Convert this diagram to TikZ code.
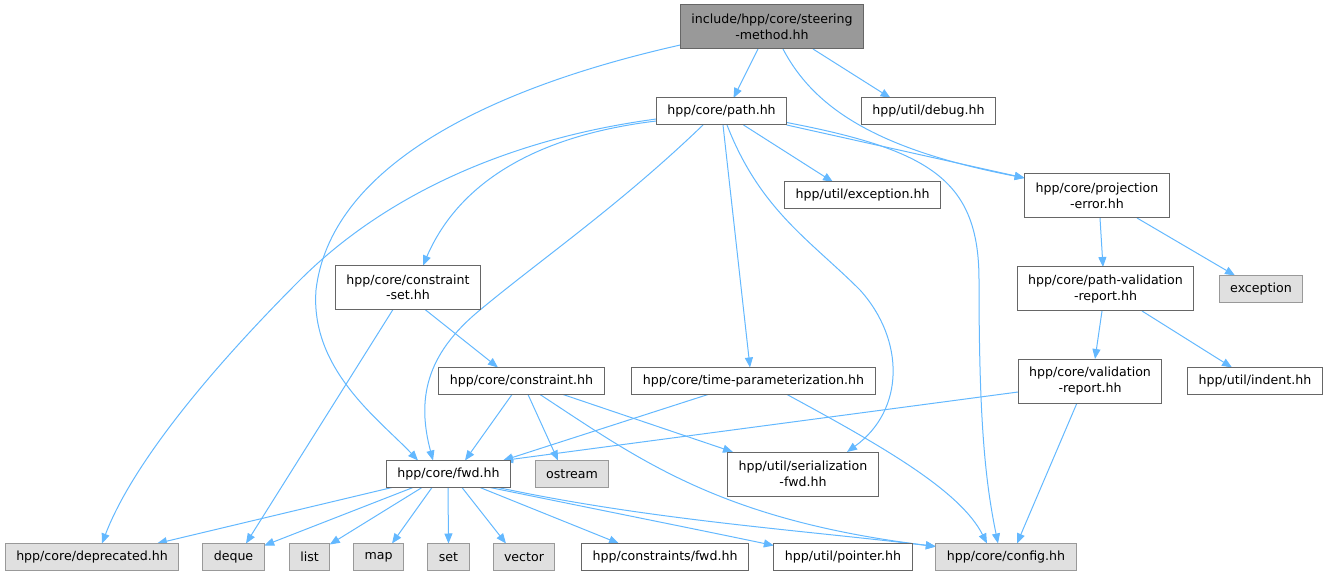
\documentclass[tikz,border=0pt]{standalone}
\usepackage{fontspec}
\setmainfont{DejaVu Sans}
\usetikzlibrary{arrows.meta}
\pgfdeclarelayer{bg}
\pgfsetlayers{bg,main}
\definecolor{edgec}{HTML}{63B8FF}
\definecolor{bordc}{HTML}{666666}
\definecolor{extb}{HTML}{999999}
\definecolor{extf}{HTML}{E0E0E0}
\begin{document}
\begin{tikzpicture}[x=1pt,y=-1pt,
  box/.style={draw=bordc,fill=white,line width=1pt,rectangle,inner xsep=11pt,inner ysep=0pt,outer sep=0pt,
    minimum height=27pt,align=center,font=\fontsize{12.6}{15.5}\selectfont},
  two/.style={minimum height=44pt},
  ext/.style={box,draw=extb,fill=extf},
  topn/.style={box,two,fill=extb,draw=bordc},
  e/.style={draw=edgec,line width=1pt,-{Triangle[length=10pt,width=8pt]}}]
\useasboundingbox (0,0) rectangle (1328,577);
% nodes
\node[topn] (steer) at (772,27) {include/hpp/core/steering\\-method.hh};
\node[box] (path) at (721.5,111.5) {hpp/core/path.hh};
\node[box] (debug) at (928.5,111.5) {hpp/util/debug.hh};
\node[box] (uexc) at (862.5,195.5) {hpp/util/exception.hh};
\node[box,two] (proj) at (1097,196) {hpp/core/projection\\-error.hh};
\node[box,two] (cset) at (408,287.5) {hpp/core/constraint\\-set.hh};
\node[box,two] (pvr) at (1105.5,289) {hpp/core/path-validation\\-report.hh};
\node[ext] (exc) at (1261,289) {exception};
\node[box] (cons) at (521.5,381) {hpp/core/constraint.hh};
\node[box] (tp) at (753.5,381) {hpp/core/time-parameterization.hh};
\node[box,two] (vr) at (1090,381) {hpp/core/validation\\-report.hh};
\node[box] (ind) at (1255,381) {hpp/util/indent.hh};
\node[box] (fwd) at (448.5,474) {hpp/core/fwd.hh};
\node[ext] (ost) at (572,474) {ostream};
\node[box,two] (ser) at (803,474) {hpp/util/serialization\\-fwd.hh};
\node[ext] (depr) at (92,557) {hpp/core/deprecated.hh};
\node[ext] (deque) at (233.5,557) {deque};
\node[ext] (nlist) at (309.5,557) {list};
\node[ext] (nmap) at (378.5,557) {map};
\node[ext] (nset) at (448.5,557) {set};
\node[ext] (vect) at (524,557) {vector};
\node[box] (cfwd) at (665,557) {hpp/constraints/fwd.hh};
\node[box] (ptr) at (843,557) {hpp/util/pointer.hh};
\node[ext] (conf) at (1006,557) {hpp/core/config.hh};
% edges
\begin{pgfonlayer}{bg}
\draw[e] ([xshift=-14]steer.south) -- ([xshift=12]path.north);
\draw[e] ([xshift=41]steer.south) -- ([xshift=-38]debug.north);
\draw[e] ([xshift=11]steer.south) .. controls (815,110) and (880,150) .. ([yshift=-4]proj.north west);
\draw[e] ([yshift=-18]steer.west) .. controls (480,90) and (330,170) .. (316,290) .. controls (310,370) and (380,420) .. ([xshift=-30.5]fwd.north);
\draw[e] (path.south east) -- ([yshift=-4]proj.north west);
\draw[e] ([yshift=-11]path.east) .. controls (930,150) and (979,180) .. (979,280) .. controls (979,420) and (985,480) .. ([xshift=-8]conf.north);
\draw[e] ([xshift=22]path.south) -- ([xshift=-29.5]uexc.north);
\draw[e] ([xshift=1.5]path.south) -- ([xshift=-3.5]tp.north);
\draw[e] ([xshift=5.5]path.south) .. controls (760,210) and (810,240) .. (860,290) .. controls (905,340) and (905,410) .. ([xshift=44]ser.north);
\draw[e] ([xshift=-18.5]path.south) .. controls (620,205) and (540,260) .. (480,310) .. controls (425,355) and (417,400) .. ([xshift=-15.5]fwd.north);
\draw[e] ([yshift=-9.5]path.west) .. controls (540,135) and (460,180) .. ([xshift=15]cset.north);
\draw[e] ([yshift=-7.5]path.west) .. controls (500,140) and (380,200) .. (300,280) .. controls (200,380) and (130,470) .. ([xshift=10]depr.north);
\draw[e] ([xshift=-15]cset.south) -- ([xshift=12.5]deque.north);
\draw[e] ([xshift=17]cset.south) -- ([xshift=-23.5]cons.north);
\draw[e] ([xshift=-9.5]cons.south) -- ([xshift=16.5]fwd.north);
\draw[e] ([xshift=6.5]cons.south) -- ([xshift=-14]ost.north);
\draw[e] ([xshift=41.5]cons.south) -- ([xshift=-70]ser.north);
\draw[e] ([xshift=18.5]cons.south) .. controls (640,460) and (720,520) .. ([yshift=-3]conf.north west);
\draw[e] ([xshift=-45.5]tp.south) -- ([xshift=54.5]fwd.north);
\draw[e] ([xshift=33.5]tp.south) .. controls (880,445) and (960,490) .. ([xshift=-19]conf.north);
\draw[e] ([yshift=-11]vr.west) -- ([xshift=54.5]fwd.north);
\draw[e] ([xshift=-13]vr.south) -- ([xshift=11]conf.north);
\draw[e] ([xshift=3]proj.south) -- ([xshift=-2.5]pvr.north);
\draw[e] ([xshift=40]proj.south) -- ([xshift=-26]exc.north);
\draw[e] ([xshift=-3.5]pvr.south) -- ([xshift=5]vr.north);
\draw[e] ([xshift=36.5]pvr.south) -- ([xshift=-23]ind.north);
\draw[e] ([xshift=-56.5]fwd.south) -- ([xshift=65]depr.north);
\draw[e] ([xshift=-35.5]fwd.south) -- ([yshift=-2]deque.north east);
\draw[e] ([xshift=-26.5]fwd.south) -- ([yshift=-1]nlist.north east);
\draw[e] ([xshift=-16.5]fwd.south) -- ([xshift=13.5]nmap.north);
\draw[e] ([xshift=-0.5]fwd.south) -- (nset.north);
\draw[e] ([xshift=13.5]fwd.south) -- ([xshift=-18]vect.north);
\draw[e] ([xshift=31.5]fwd.south) -- ([xshift=-46]cfwd.north);
\draw[e] ([xshift=41.5]fwd.south) .. controls (600,510) and (700,530) .. ([yshift=-2]ptr.north west);
\draw[e] ([xshift=49.5]fwd.south) .. controls (650,520) and (800,530) .. ([yshift=-3]conf.north west);
\end{pgfonlayer}
\end{tikzpicture}
\end{document}
